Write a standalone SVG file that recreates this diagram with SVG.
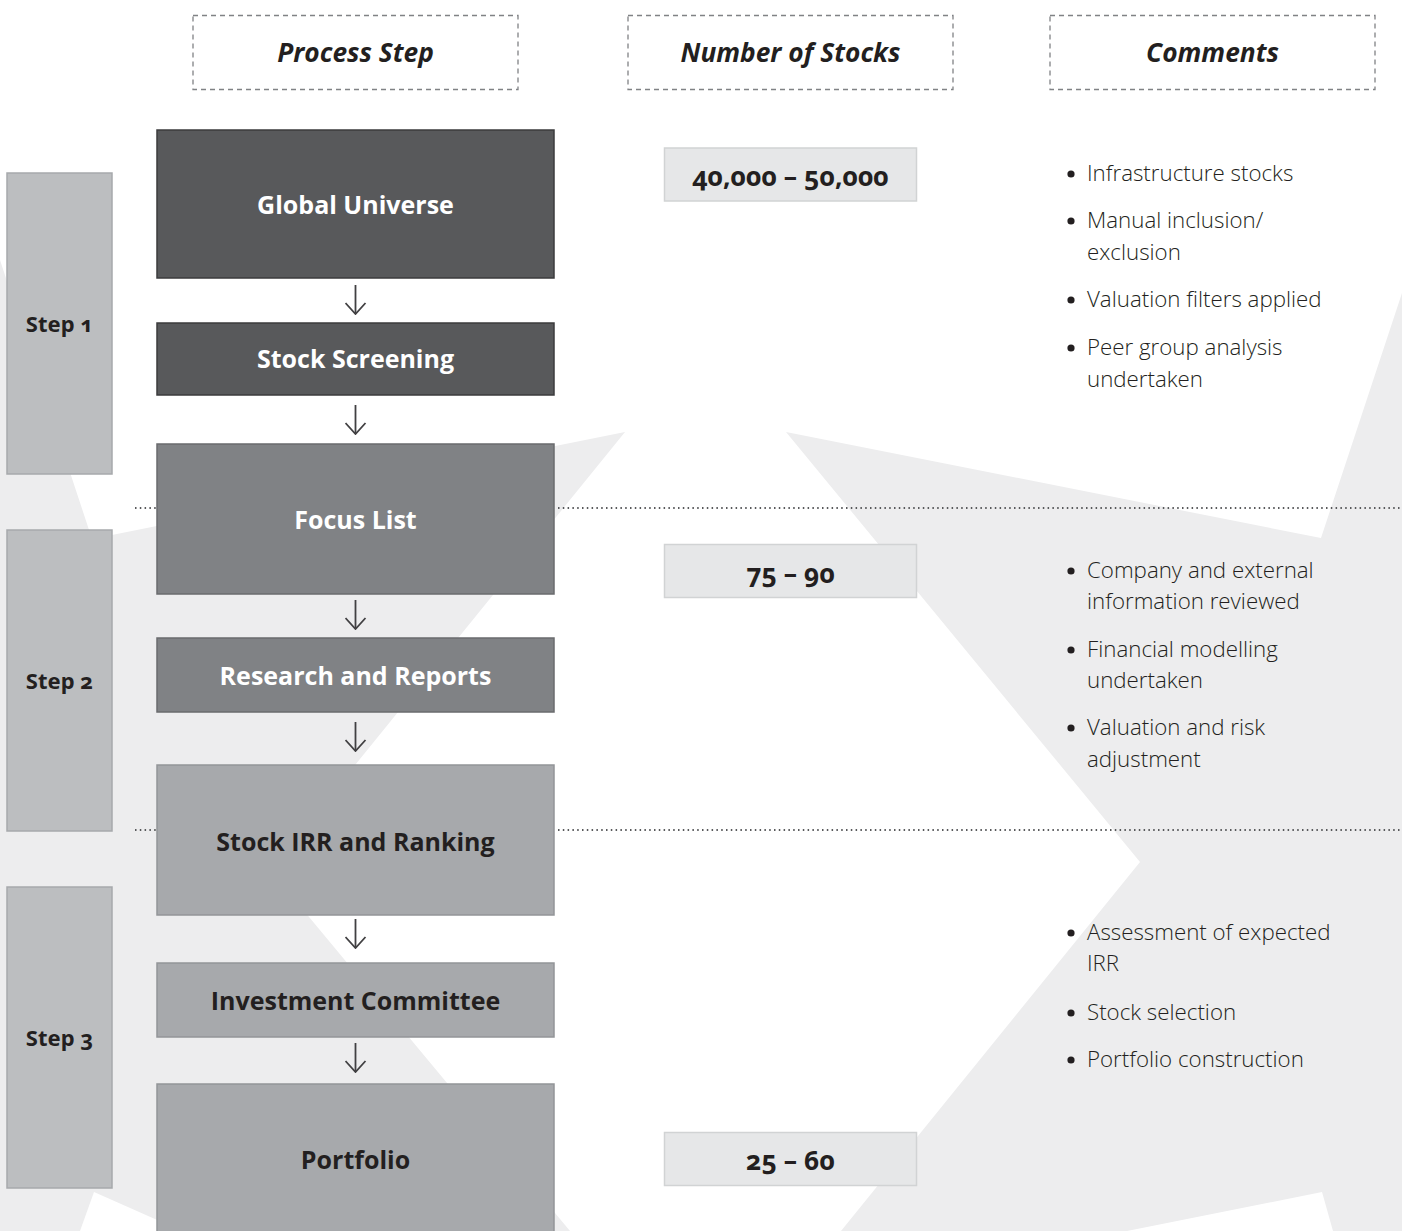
<svg xmlns="http://www.w3.org/2000/svg" width="1402" height="1231" viewBox="0 0 1402 1231">
<style>
.lbl{font-family:"Open Sans","Noto Sans","Liberation Sans",sans-serif;font-weight:700;font-size:25px;text-anchor:middle}
.w{fill:#ffffff}
.d{fill:#231f20}
.hdr{font-family:"Open Sans","Noto Sans","Liberation Sans",sans-serif;font-weight:700;font-style:italic;font-size:26.3px;text-anchor:middle;fill:#231f20}
.num{font-family:"Noto Sans","Open Sans","Liberation Sans",sans-serif;font-weight:700;font-size:26.5px;text-anchor:middle;fill:#231f20;font-variant-numeric:oldstyle-nums}
.step{font-family:"Noto Sans","Open Sans","Liberation Sans",sans-serif;font-weight:700;font-size:22px;text-anchor:middle;fill:#231f20;font-variant-numeric:oldstyle-nums}
.cm{font-family:"Open Sans","Noto Sans","Liberation Sans",sans-serif;font-weight:300;font-size:22.3px;fill:#231f20}
.dash{fill:none;stroke:#808285;stroke-width:1.3;stroke-dasharray:5 4}
.dot{fill:none;stroke:#58595b;stroke-width:1.8;stroke-dasharray:1.5 3.3}
.arr{fill:none;stroke:#414042;stroke-width:1.8}
.b1{fill:#58595b;stroke:#3b3b3d;stroke-width:1.5}
.b2{fill:#808285;stroke:#6a6b6e;stroke-width:1.5}
.b3{fill:#a7a9ac;stroke:#939598;stroke-width:1.5}
.st{fill:#bcbec0;stroke:#a7a9ac;stroke-width:1.5}
.nb{fill:#e6e7e8;stroke:#d1d3d4;stroke-width:1.5}
</style>
<defs>
<marker id="ah" viewBox="0 0 13 22" refX="12" refY="11" markerWidth="13" markerHeight="22" markerUnits="userSpaceOnUse" orient="auto">
<path d="M1,1 L12,11 L1,21" fill="none" stroke="#414042" stroke-width="1.8"/>
</marker>
</defs>
<g id="background">
<rect x="0" y="0" width="1402" height="1231" fill="#ededee"/>
<polygon points="0,0 1402,0 1402,293 1321,538 786,432 1140,862 841,1231 570,1231 270,870 625,432 92,539 0,260" fill="#ffffff"/>
<polygon points="94,1192 80,1231 182,1231" fill="#ffffff"/>
<polygon points="1322,1192 1127,1231 1333,1231" fill="#ffffff"/>
</g>
<g id="headers">
<g id="hdr-process"><rect class="dash" x="193" y="15.5" width="325" height="74"/><text class="hdr" x="355.5" y="62">Process Step</text></g>
<g id="hdr-number"><rect class="dash" x="628" y="15.5" width="325" height="74"/><text class="hdr" x="790.5" y="62">Number of Stocks</text></g>
<g id="hdr-comments"><rect class="dash" x="1050" y="15.5" width="325" height="74"/><text class="hdr" x="1212.5" y="62">Comments</text></g>
</g>
<g id="dividers">
<line class="dot" x1="135" y1="508" x2="157" y2="508"/>
<line class="dot" x1="558" y1="508" x2="1402" y2="508"/>
<line class="dot" x1="135" y1="830" x2="157" y2="830"/>
<line class="dot" x1="558" y1="830" x2="1402" y2="830"/>
</g>
<g id="steps">
<g id="step1"><rect class="st" x="7" y="173" width="105" height="301"/><text class="step" x="59.5" y="332">Step 1</text></g>
<g id="step2"><rect class="st" x="7" y="530" width="105" height="301"/><text class="step" x="59.5" y="689">Step 2</text></g>
<g id="step3"><rect class="st" x="7" y="887" width="105" height="301"/><text class="step" x="59.5" y="1046">Step 3</text></g>
</g>
<g id="connectors">
<line class="arr" x1="355.5" y1="285" x2="355.5" y2="314" marker-end="url(#ah)"/>
<line class="arr" x1="355.5" y1="405" x2="355.5" y2="434" marker-end="url(#ah)"/>
<line class="arr" x1="355.5" y1="600" x2="355.5" y2="629" marker-end="url(#ah)"/>
<line class="arr" x1="355.5" y1="722" x2="355.5" y2="751" marker-end="url(#ah)"/>
<line class="arr" x1="355.5" y1="919" x2="355.5" y2="948" marker-end="url(#ah)"/>
<line class="arr" x1="355.5" y1="1043" x2="355.5" y2="1072" marker-end="url(#ah)"/>
</g>
<g id="node-global-universe"><rect class="b1" x="157" y="130" width="397" height="148"/><text class="lbl w" x="355.5" y="214">Global Universe</text></g>
<g id="node-stock-screening"><rect class="b1" x="157" y="323" width="397" height="72"/><text class="lbl w" x="355.5" y="368">Stock Screening</text></g>
<g id="node-focus-list"><rect class="b2" x="157" y="444" width="397" height="150"/><text class="lbl w" x="355.5" y="529">Focus List</text></g>
<g id="node-research"><rect class="b2" x="157" y="638" width="397" height="74"/><text class="lbl w" x="355.5" y="685">Research and Reports</text></g>
<g id="node-irr"><rect class="b3" x="157" y="765" width="397" height="150"/><text class="lbl d" x="355.5" y="851">Stock IRR and Ranking</text></g>
<g id="node-ic"><rect class="b3" x="157" y="963" width="397" height="74"/><text class="lbl d" x="355.5" y="1010">Investment Committee</text></g>
<g id="node-portfolio"><rect class="b3" x="157" y="1084" width="397" height="160"/><text class="lbl d" x="355.5" y="1169">Portfolio</text></g>
<g id="numbers">
<g id="num1"><rect class="nb" x="664.5" y="148" width="252" height="53"/><text class="num" x="790.5" y="186">40,000 – 50,000</text></g>
<g id="num2"><rect class="nb" x="664.5" y="544.5" width="252" height="53"/><text class="num" x="790.5" y="583">75 – 90</text></g>
<g id="num3"><rect class="nb" x="664.5" y="1132.5" width="252" height="53"/><text class="num" x="790.5" y="1170">25 – 60</text></g>
</g>
<g id="comments">
<g fill="#231f20">
<circle cx="1071" cy="174" r="3.6"/><circle cx="1071" cy="221" r="3.6"/><circle cx="1071" cy="300" r="3.6"/><circle cx="1071" cy="348" r="3.6"/>
<circle cx="1071" cy="571" r="3.6"/><circle cx="1071" cy="650" r="3.6"/><circle cx="1071" cy="728" r="3.6"/>
<circle cx="1071" cy="933" r="3.6"/><circle cx="1071" cy="1013" r="3.6"/><circle cx="1071" cy="1060" r="3.6"/>
</g>
<text class="cm" x="1087" y="181">Infrastructure stocks</text>
<text class="cm" x="1087" y="228">Manual inclusion/</text>
<text class="cm" x="1087" y="260">exclusion</text>
<text class="cm" x="1087" y="307">Valuation filters applied</text>
<text class="cm" x="1087" y="355">Peer group analysis</text>
<text class="cm" x="1087" y="387">undertaken</text>
<text class="cm" x="1087" y="578">Company and external</text>
<text class="cm" x="1087" y="609">information reviewed</text>
<text class="cm" x="1087" y="657">Financial modelling</text>
<text class="cm" x="1087" y="688">undertaken</text>
<text class="cm" x="1087" y="735">Valuation and risk</text>
<text class="cm" x="1087" y="767">adjustment</text>
<text class="cm" x="1087" y="940">Assessment of expected</text>
<text class="cm" x="1087" y="971">IRR</text>
<text class="cm" x="1087" y="1020">Stock selection</text>
<text class="cm" x="1087" y="1067">Portfolio construction</text>
</g>
</svg>
